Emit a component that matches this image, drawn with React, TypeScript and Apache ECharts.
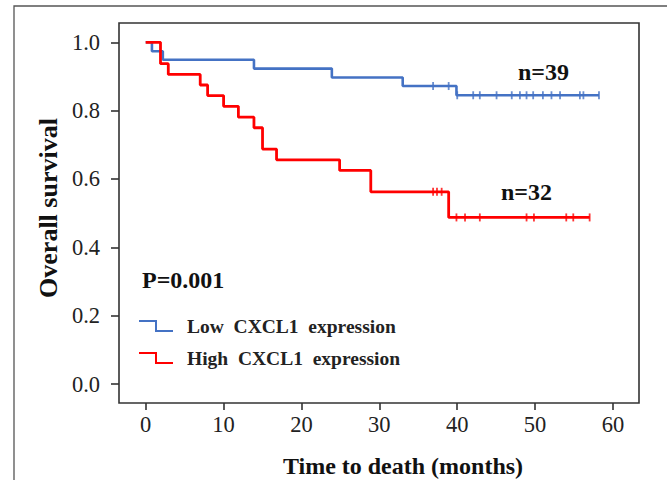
import React, { useEffect, useRef } from "react";
import * as echarts from "echarts";

// Kaplan-Meier step data (time in months, survival probability)
const lowTimes = [0, 0.8, 2.2, 13.9, 23.9, 33.0, 39.9, 58.2];
const lowSurv = [1, 0.974, 0.949, 0.923, 0.897, 0.872, 0.845, 0.845];
const highTimes = [0, 1.9, 2.9, 7.0, 7.95, 10.0, 11.9, 13.9, 15.0, 16.8, 24.9, 28.9, 38.9, 57.0];
const highSurv = [1, 0.9375, 0.906, 0.875, 0.844, 0.8125, 0.781, 0.75, 0.6875, 0.656, 0.625, 0.5625, 0.4875, 0.4875];

// censored observations
const lowCensTimes = [36.9, 38.9, 40.0, 42.05, 42.9, 45.05, 47.0, 48.05, 48.9, 49.75, 51.0, 52.1, 53.2, 55.75, 56.2, 58.2];
const lowCensSurv = [0.872, 0.872, 0.845, 0.845, 0.845, 0.845, 0.845, 0.845, 0.845, 0.845, 0.845, 0.845, 0.845, 0.845, 0.845, 0.845];
const highCensTimes = [36.9, 37.4, 38.0, 39.9, 41.0, 42.9, 48.9, 49.85, 54.0, 54.9, 57.0];
const highCensSurv = [0.5625, 0.5625, 0.5625, 0.4875, 0.4875, 0.4875, 0.4875, 0.4875, 0.4875, 0.4875, 0.4875];

const seriesNames = ["Low  CXCL1  expression", "High  CXCL1  expression"];
const xTicks = { min: 0, max: 60, interval: 10 };
const yTicks = { min: 0, max: 1, interval: 0.2 };

const BLUE = "#4472c4";
const RED = "#ff0000";
const FONT = '"Liberation Serif", "Times New Roman", serif';

const zip = (a: number[], b: number[]) => a.map((v, i) => [v, b[i]]);

export default function App() {
  const ref = useRef<HTMLDivElement>(null);
  useEffect(() => {
    if (!ref.current) return;
    const chart = echarts.init(ref.current, null, { renderer: "svg" });
    const stepIcon = "path://M0,0 H18 V10 H34 V12 H16 V2 H0 Z";
    chart.setOption({
      animation: false,
      backgroundColor: "#fff",
      grid: [
        { left: 145.7, top: 42.3, width: 467.3, height: 341.7, show: false },
        { left: 119, top: 23, width: 520, height: 380, show: true, borderColor: "#333", borderWidth: 1.6, backgroundColor: "transparent" },
      ],
      xAxis: [
        {
          type: "value", gridIndex: 0, min: xTicks.min, max: xTicks.max, interval: xTicks.interval,
          offset: 19,
          axisLine: { show: false, onZero: false },
          axisTick: { show: true, length: 7, lineStyle: { color: "#333", width: 1.6 } },
          splitLine: { show: false },
          axisLabel: { margin: 10, color: "#222", fontSize: 22.5, fontFamily: FONT },
        },
        { type: "value", gridIndex: 1, show: false, min: 0, max: 1 },
      ],
      yAxis: [
        {
          type: "value", gridIndex: 0, min: yTicks.min, max: yTicks.max, interval: yTicks.interval,
          offset: 26.7,
          axisLine: { show: false, onZero: false },
          axisTick: { show: true, length: 8, lineStyle: { color: "#333", width: 1.6 } },
          splitLine: { show: false },
          axisLabel: { margin: 19, color: "#222", fontSize: 22.5, fontFamily: FONT, formatter: (v: number) => v.toFixed(1) },
        },
        { type: "value", gridIndex: 1, show: false, min: 0, max: 1 },
      ],
      legend: {
        data: seriesNames,
        orient: "vertical",
        left: 139,
        top: 316,
        padding: 0,
        itemWidth: 34,
        itemHeight: 12,
        itemGap: 12,
        icon: stepIcon,
        textStyle: { fontFamily: FONT, fontWeight: "bold", fontSize: 19.5, color: "#222", padding: [0, 0, 0, 9] },
      },
      series: [
        {
          name: seriesNames[0], type: "line", step: "end", showSymbol: false, symbol: "none",
          xAxisIndex: 0, yAxisIndex: 0,
          data: zip(lowTimes, lowSurv),
          lineStyle: { color: BLUE, width: 2.6 }, itemStyle: { color: BLUE },
        },
        {
          name: seriesNames[1], type: "line", step: "end", showSymbol: false, symbol: "none",
          xAxisIndex: 0, yAxisIndex: 0,
          data: zip(highTimes, highSurv),
          lineStyle: { color: RED, width: 2.8 }, itemStyle: { color: RED },
        },
        {
          name: "Low censored", type: "scatter", symbol: "rect", symbolSize: [1.8, 8],
          xAxisIndex: 0, yAxisIndex: 0,
          data: zip(lowCensTimes, lowCensSurv), itemStyle: { color: BLUE },
        },
        {
          name: "High censored", type: "scatter", symbol: "rect", symbolSize: [1.8, 8],
          xAxisIndex: 0, yAxisIndex: 0,
          data: zip(highCensTimes, highCensSurv), itemStyle: { color: RED },
        },
      ],
      graphic: [
        { type: "rect", shape: { x: 14, y: 6, width: 700, height: 520 }, style: { fill: "none", stroke: "#555", lineWidth: 1.3 }, silent: true },
        { type: "text", x: 48, y: 208, rotation: Math.PI / 2, style: { text: "Overall survival", font: `bold 26px ${FONT}`, textAlign: "center", textVerticalAlign: "middle", fill: "#111" } },
        { type: "text", x: 403, y: 466, style: { text: "Time to death (months)", font: `bold 24px ${FONT}`, textAlign: "center", textVerticalAlign: "middle", fill: "#111" } },
        { type: "text", x: 142, y: 280, style: { text: "P=0.001", font: `bold 24px ${FONT}`, textAlign: "left", textVerticalAlign: "middle", fill: "#111" } },
        { type: "text", x: 518, y: 72, style: { text: "n=39", font: `bold 24px ${FONT}`, textAlign: "left", textVerticalAlign: "middle", fill: "#111" } },
        { type: "text", x: 501, y: 192, style: { text: "n=32", font: `bold 24px ${FONT}`, textAlign: "left", textVerticalAlign: "middle", fill: "#111" } },
      ],
    });
    return () => chart.dispose();
  }, []);
  return <div ref={ref} style={{ position: "absolute", left: 0, top: 0, width: 667, height: 480 }} />;
}
